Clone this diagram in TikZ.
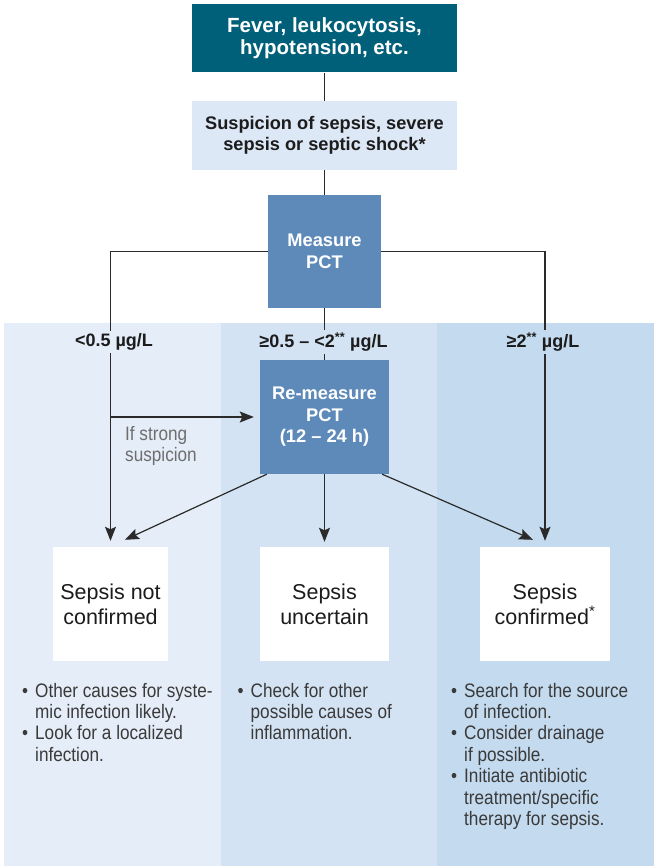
\documentclass[tikz,border=0pt]{standalone}
\usepackage{fontspec}
\setmainfont{Liberation Sans}
\newfontfamily\narrowfont[FakeStretch=0.88]{Liberation Sans}
\usetikzlibrary{arrows.meta,calc}
\definecolor{cTop}{HTML}{006079}
\definecolor{cSusp}{HTML}{DDE8F6}
\definecolor{cPct}{HTML}{5E8AB9}
\definecolor{cColA}{HTML}{E5EDF8}
\definecolor{cColB}{HTML}{D3E3F3}
\definecolor{cColC}{HTML}{C4DAEE}
\definecolor{cLine}{HTML}{2A2A2A}
\definecolor{cHead}{HTML}{1C1C1C}
\definecolor{cBody}{HTML}{3A3A3A}
\definecolor{cNote}{HTML}{6E6E6E}
\newcommand\bl{\makebox[13pt][l]{\textbullet}}
\newcommand\ib{\hspace*{13pt}}
\begin{document}
\begin{tikzpicture}[x=1pt,y=-1pt,
  box/.style={inner sep=0pt, align=center},
  topbox/.style={box, fill=cTop, text=white, minimum width=265pt, minimum height=68pt,
     font=\fontsize{20.5}{22}\selectfont\bfseries},
  suspbox/.style={box, fill=cSusp, text=cHead, minimum width=265pt, minimum height=69pt,
     font=\fontsize{18.2}{21}\selectfont\bfseries},
  pctbox/.style={box, fill=cPct, text=white, font=\fontsize{18.3}{21.5}\selectfont\bfseries},
  resbox/.style={box, fill=white, text=cHead, minimum height=114pt,
     font=\fontsize{21.5}{25}\selectfont},
  rangelbl/.style={inner sep=3pt, text=cHead, font=\fontsize{18}{21}\selectfont\bfseries},
  btext/.style={anchor=base west, inner sep=0pt, text=cBody,
     font=\narrowfont\fontsize{19.5}{21.4}\selectfont},
  line/.style={draw=cLine, line width=1.2pt},
  arr/.style={line, -{Stealth[length=14pt,width=11pt,inset=2.5pt]}}
]
\useasboundingbox (0,0) rectangle (654,866);
% column backgrounds
\fill[cColA] (4,323) rectangle (221,866);
\fill[cColB] (221,323) rectangle (437,866);
\fill[cColC] (437,323) rectangle (654,866);

% boxes
\node[topbox] (fever) at (324.5,38.5) {Fever, leukocytosis,\\hypotension, etc.};
\node[suspbox] (susp) at (324.5,135.5) {Suspicion of sepsis, severe\\sepsis or septic shock*};
\node[pctbox, minimum width=113pt, minimum height=113pt] (meas) at (324.5,251.5) {Measure\\PCT};
\node[pctbox, minimum width=129pt, minimum height=114pt] (remeas) at (324.5,417) {Re-measure\\PCT\\(12 – 24 h)};
\node[resbox, minimum width=115pt] (notc) at (110.5,604) {Sepsis not\\confirmed};
\node[resbox, minimum width=129pt] (unc) at (324.5,604) {Sepsis\\uncertain};
\node[resbox, minimum width=130pt] (conf) at (545,604) {Sepsis\\confirmed\textsuperscript{*}};

% connectors
\draw[line] (fever) -- (susp);
\draw[line] (susp) -- (meas);
\draw[line] (meas) -- (remeas);
\draw[arr, shorten >=6pt] (meas.west) -| (notc.north);
\draw[arr, shorten >=6pt] (meas.east) -| (conf.north);
\coordinate (branch) at (notc.north |- remeas.west);
\draw[arr, shorten >=6pt] (branch) -- (remeas.west);
\draw[arr, shorten >=5pt] (remeas) -- (unc);
\coordinate (dls) at ($(remeas.south west)+(7,0)$);
\coordinate (dle) at ($(notc.north)+(14.5,-7)$);
\coordinate (drs) at ($(remeas.south east)+(-7,0)$);
\coordinate (dre) at ($(conf.north)+(-12,-7)$);
\draw[arr] (dls) -- (dle);
\draw[arr] (drs) -- (dre);

% range labels (cover the lines)
\node[rangelbl, fill=cColA] (r1) at (114,342) {<0.5 µg/L};
\node[rangelbl, fill=cColB] (r2) at (323.5,342) {≥0.5 – <2\textsuperscript{**} µg/L};
\node[rangelbl, fill=cColC] (r3) at (543,342) {≥2\textsuperscript{**} µg/L};

% note
\node[btext, text=cNote] (note) at (125,440.5) {\parbox[t]{100pt}{\raggedright If strong\\suspicion}};

% bullet texts
\node[btext] (t1) at (22,697) {\parbox[t]{200pt}{\raggedright
  \bl Other causes for syste-\\\ib mic infection likely.\\\bl Look for a localized\\\ib infection.}};
\node[btext] (t2) at (237.5,697) {\parbox[t]{200pt}{\raggedright
  \bl Check for other\\\ib possible causes of\\\ib inflammation.}};
\node[btext] (t3) at (451,697) {\parbox[t]{200pt}{\raggedright
  \bl Search for the source\\\ib of infection.\\\bl Consider drainage\\\ib if possible.\\\bl Initiate antibiotic\\\ib treatment/specific\\\ib therapy for sepsis.}};
\end{tikzpicture}
\end{document}
